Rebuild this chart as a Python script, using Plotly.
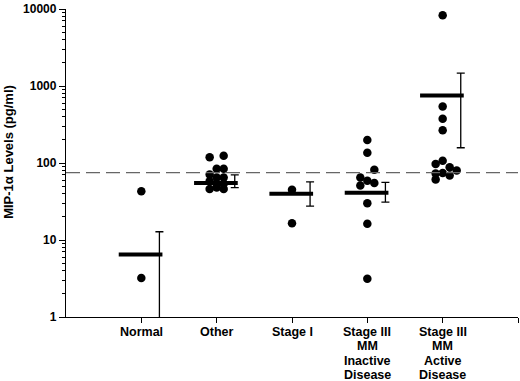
import plotly.graph_objects as go

# ---- data ----
categories = ["Normal", "Other", "Stage I",
              "Stage III<br>MM<br>Inactive<br>Disease",
              "Stage III<br>MM<br>Active<br>Disease"]

normal_vals = [43, 3.2]
other_vals = [119, 124, 84, 84, 71, 65, 65, 58, 54, 54, 46, 48, 46]
stage1_vals = [45, 16.5]
inactive_vals = [199, 136, 82, 65, 59, 55, 51, 30, 16.3, 3.15]
active_vals = [8300, 544, 377, 267, 107, 97, 88, 80, 73, 74, 69, 61]

group_means = [6.5, 55, 40, 41, 754]
group_err_hi = [12.8, 70, 57, 56, 1470]
group_err_lo = [0.5, 48, 27.5, 31, 158]

reference_level = 75

# column index of each dot within its group (for side-by-side placement)
normal_cols = [0, 0]
other_cols = [-1, 1, 0, 1, -1, 0, 1, -1, 0, 1, -1, 0, 1]
stage1_cols = [0, 0]
inactive_cols = [0, 0, 1, -1, 0, 1, -1, 0, 0, 0]
active_cols = [0, 0, 0, 0, 0, -1, 1, 2, -1, 0, 1, -1]

ytick_vals = [1, 10, 100, 1000, 10000]
ytick_text = ["1", "10", "100", "1000", "10000"]

# ---- figure ----
COL_W = 0.093
FONT = "Liberation Sans, Arial, sans-serif"
fig = go.Figure()

groups = [(normal_vals, normal_cols), (other_vals, other_cols),
          (stage1_vals, stage1_cols), (inactive_vals, inactive_cols),
          (active_vals, active_cols)]

for i, (vals, cols) in enumerate(groups):
    pos = i + 1
    fig.add_trace(go.Scatter(
        x=[pos + c * COL_W for c in cols], y=vals, mode="markers",
        marker=dict(color="black", size=8.5, line=dict(width=0)),
        showlegend=False, hoverinfo="y"))
    # mean bar
    fig.add_trace(go.Scatter(
        x=[pos - 0.30, pos + 0.28], y=[group_means[i]] * 2, mode="lines",
        line=dict(color="black", width=4), showlegend=False, hoverinfo="skip"))
    # error bar
    fig.add_trace(go.Scatter(
        x=[pos + 0.24], y=[group_means[i]], mode="markers",
        marker=dict(size=1, color="rgba(0,0,0,0)"),
        error_y=dict(type="data", symmetric=False,
                     array=[group_err_hi[i] - group_means[i]],
                     arrayminus=[group_means[i] - group_err_lo[i]],
                     color="black", thickness=1.3, width=4),
        showlegend=False, hoverinfo="skip"))
    # category label, one line at a time for tight line spacing
    for j, line in enumerate(categories[i].split("<br>")):
        fig.add_annotation(text="<b>" + line + "</b>", x=pos, xref="x",
                           y=0, yref="paper", yanchor="middle",
                           yshift=-(15 + 14.3 * j), showarrow=False,
                           font=dict(family=FONT, size=12.5, color="black"))

fig.add_shape(type="line", xref="paper", yref="y", x0=0, x1=1,
              y0=reference_level, y1=reference_level,
              line=dict(color="#666666", width=1.2, dash="14px,6px"))

fig.add_annotation(text="<b>MIP-1α Levels (pg/ml)</b>", textangle=-90,
                   xref="paper", yref="paper", x=-0.127, y=0.535,
                   xanchor="center", yanchor="middle", showarrow=False,
                   font=dict(family=FONT, size=13, color="black"))

fig.update_layout(
    width=520, height=381,
    margin=dict(l=66, r=2, t=6, b=64),
    plot_bgcolor="white", paper_bgcolor="white",
    font=dict(family=FONT, color="black"),
    xaxis=dict(range=[0, 6], tickvals=[1, 2, 3, 4, 5, 6],
               showticklabels=False,
               showgrid=False, zeroline=False, showline=True,
               linecolor="black", linewidth=1.3,
               ticks="outside", ticklen=5, tickcolor="black"),
    yaxis=dict(type="log", range=[0, 4.0008], tickvals=ytick_vals,
               ticktext=["<b>" + t + "</b>" for t in ytick_text],
               ticklabeloverflow="allow",
               showgrid=False, zeroline=False, showline=True,
               linecolor="black", linewidth=1.3,
               ticks="outside", ticklen=6, tickcolor="black",
               tickfont=dict(family=FONT, size=12, color="black"),
               minor=dict(tickvals=[m * 10 ** d for d in range(4) for m in range(2, 10)],
                          ticks="outside", ticklen=3, tickcolor="black",
                          showgrid=False)),
)

fig.write_html("out.html", config={"displayModeBar": False},
               post_script="document.body.style.margin='0';"
                           "document.body.style.overflow='hidden';")
